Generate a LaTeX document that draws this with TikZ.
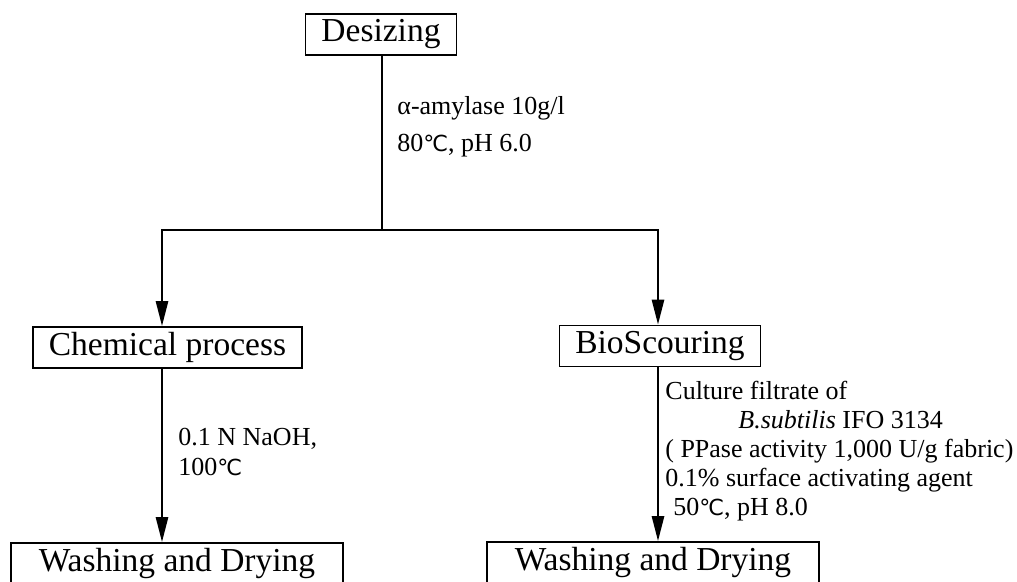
\documentclass[tikz,border=0pt]{standalone}
\usepackage{fontspec}
\setmainfont{Liberation Serif}
\newfontfamily\symbfont[Scale=0.85]{DejaVu Sans}
\newcommand{\degC}{{\symbfont ℃}}
\usetikzlibrary{arrows.meta}
\tikzset{
    stage/.style={draw, line width=0.8pt, inner xsep=8pt, inner ysep=0pt,
        minimum height=20.5pt, font=\fontsize{16.75}{18}\selectfont},
    wide/.style={minimum width=166pt},
    cond/.style={inner sep=0pt, align=left, anchor=west,
        font=\fontsize{13}{#1}\selectfont},
    cond/.default=14.5pt,
    flow/.style={line width=1.3pt, -{Triangle[length=12.5pt,width=6pt]}},
}
\begin{document}
\begin{tikzpicture}[x=0.5pt,y=-0.5pt]
    \useasboundingbox (0,0) rectangle (1017,582);
    % process stages
    \node[stage] (des) at (381,34.5) {Desizing};
    \node[stage] (chem) at (167.5,347.5) {Chemical process};
    \node[stage] (bio) at (660,346) {BioScouring};
    \node[stage,wide] (washl) at (177,563.5) {Washing and Drying};
    \node[stage,wide] (washr) at (653,562.5) {Washing and Drying};
    % branch points
    \coordinate (split) at (382,230);
    \coordinate (left) at (162,230);
    \coordinate (right) at (658,230);
    % connectors
    \draw[line width=1.3pt] (des.south -| split) -- (split);
    \draw[flow] (split) -- (left) -- (left |- chem.north);
    \draw[flow] (split) -- (right) -- (right |- bio.north);
    \draw[flow] (chem.south -| left) -- (left |- washl.north);
    \draw[flow] (bio.south -| right) -- (right |- washr.north);
    % conditions
    \node[cond=18.5pt] (amy) at (397,127) {α-amylase 10g/l\\80\degC, pH 6.0};
    \node[cond=15pt] (naoh) at (178,452) {0.1 N NaOH,\\100\degC};
    \node[cond] (enz) at (665,451) {Culture filtrate of\\
        \hspace*{36.5pt}\textit{B.subtilis} IFO 3134\\
        ( PPase activity 1,000 U/g fabric)\\
        0.1\% surface activating agent\\
        \hspace*{4pt}50\degC, pH 8.0};
\end{tikzpicture}
\end{document}
